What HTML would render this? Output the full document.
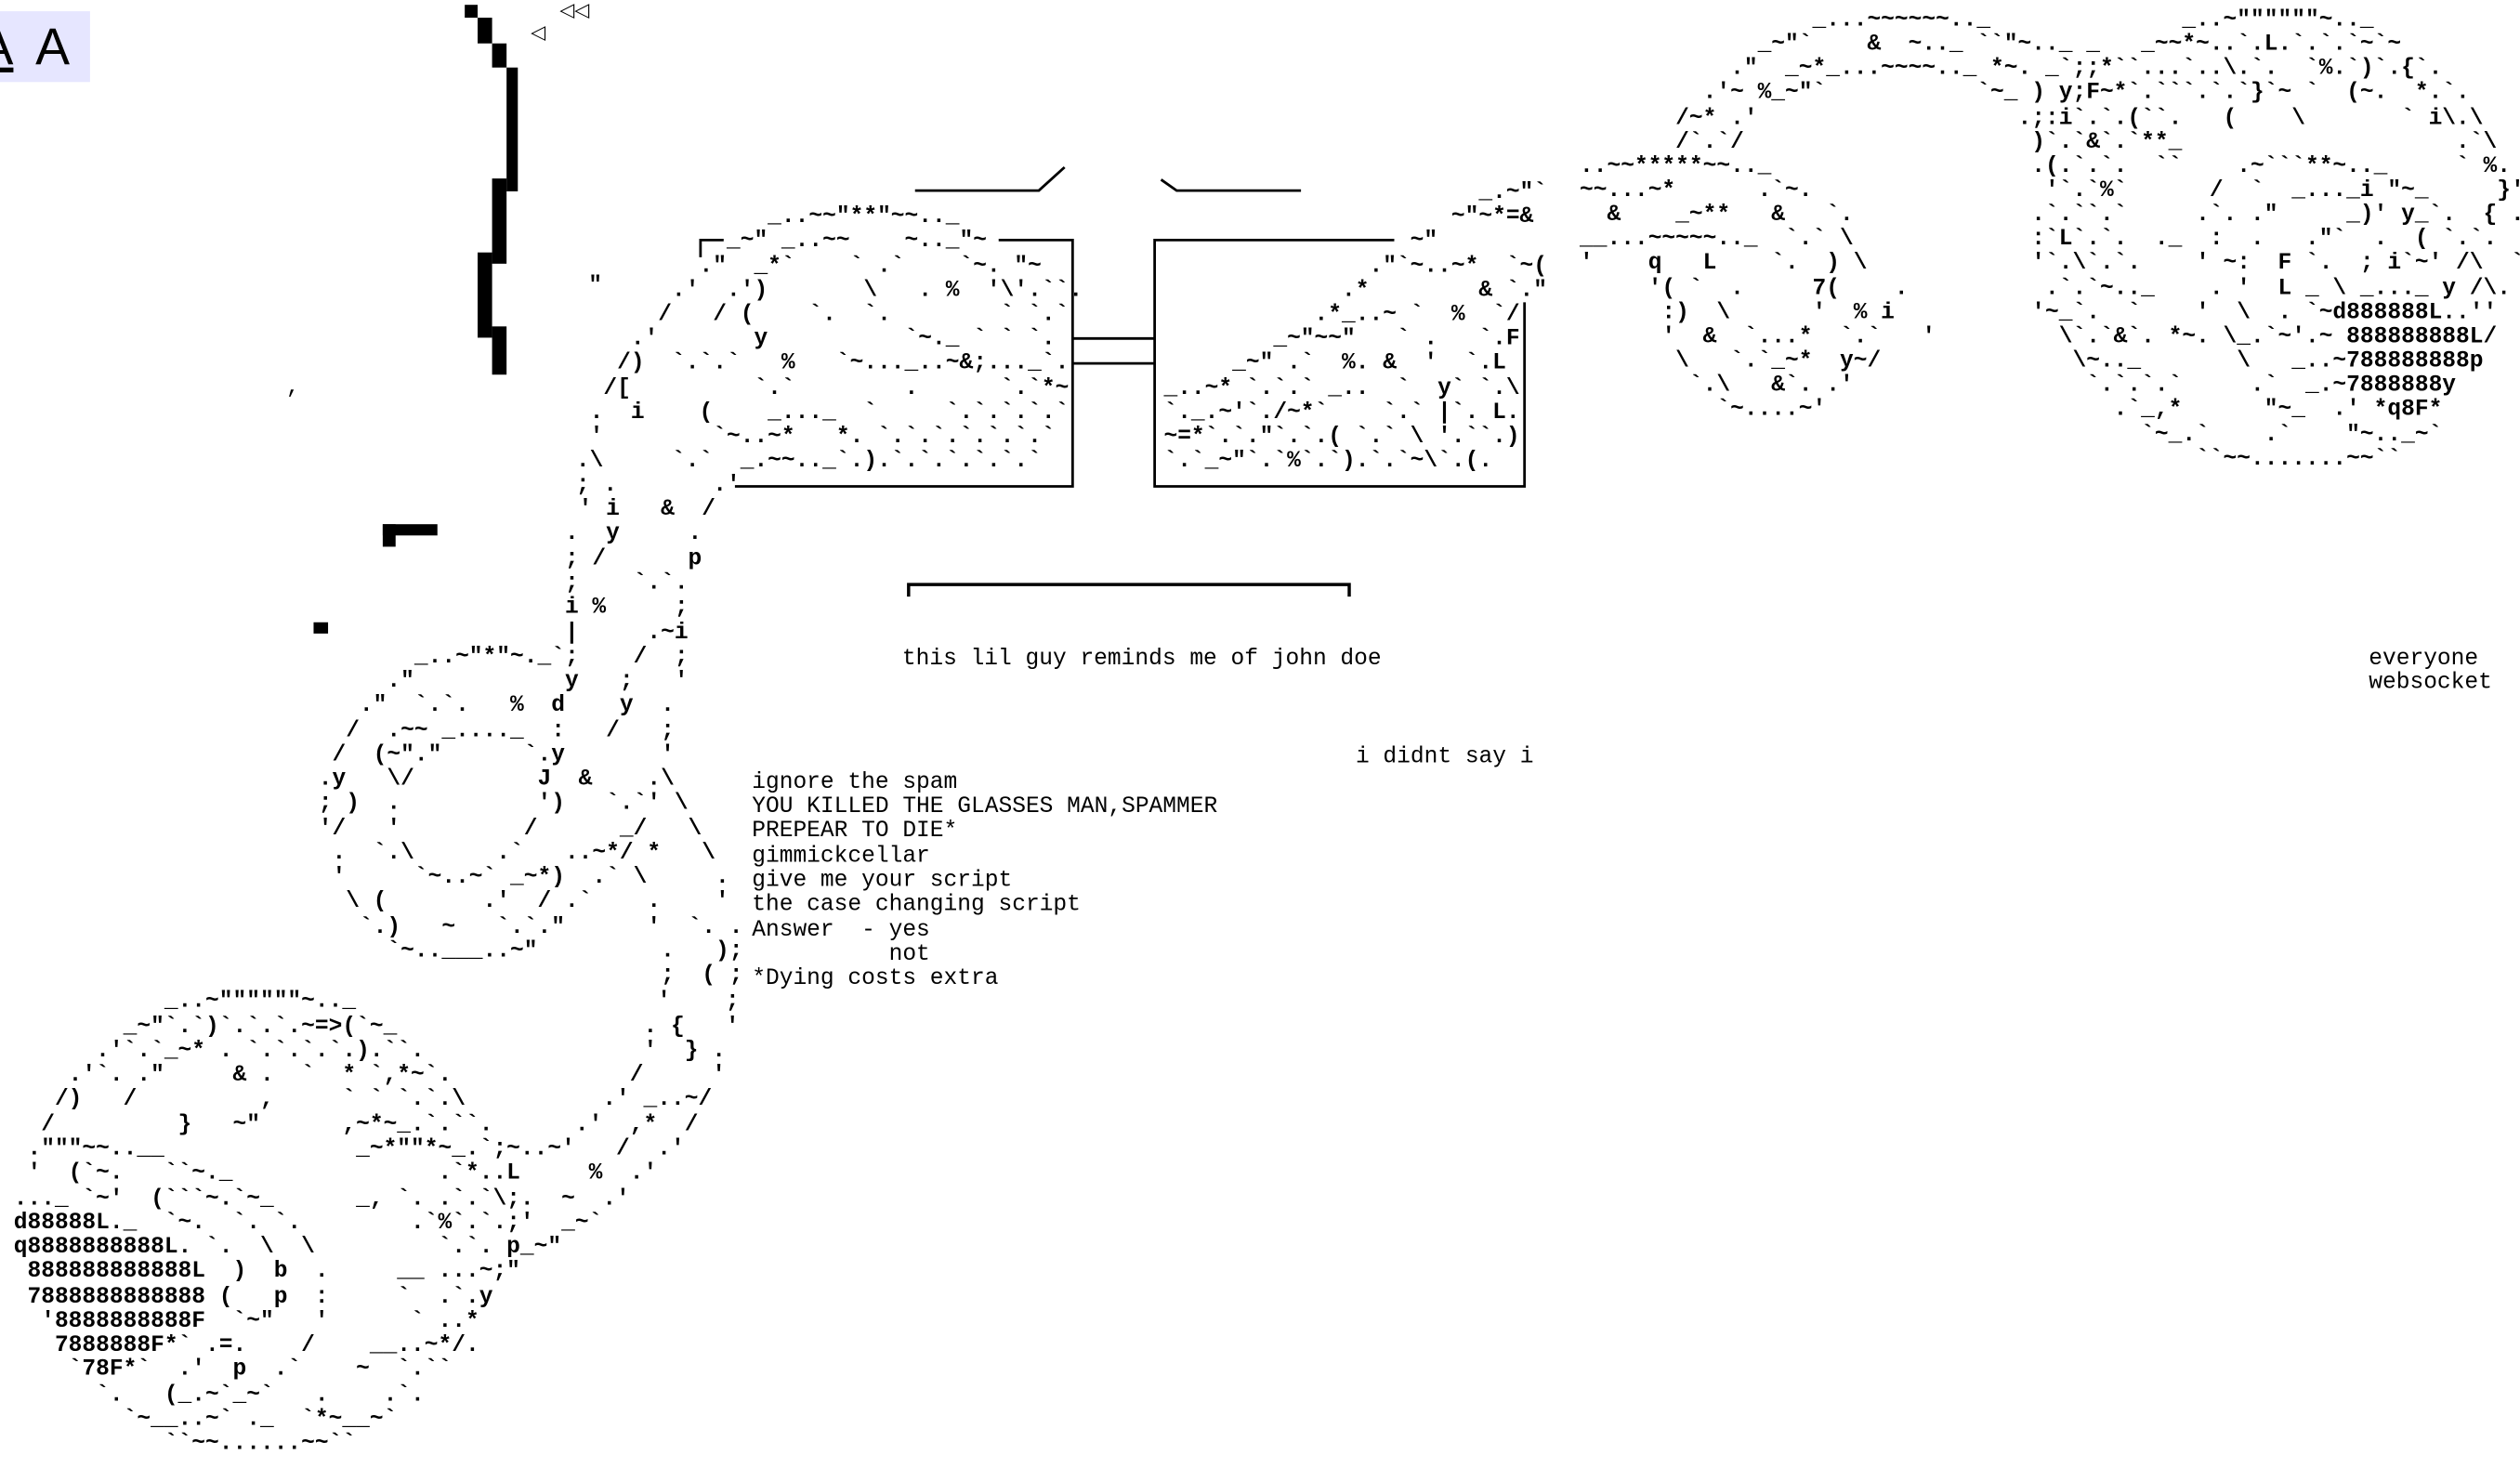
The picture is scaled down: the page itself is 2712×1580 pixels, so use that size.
<!DOCTYPE html>
<html><head><meta charset="utf-8"><style>
html,body{margin:0;padding:0;background:#fff;}
body{width:2712px;height:1580px;overflow:hidden;position:relative;}
#s{position:absolute;left:0;top:0;width:1567px;height:913px;transform:scale(1.73066);transform-origin:0 0;}
pre{position:absolute;margin:0;font-family:"Liberation Mono",monospace;font-size:14.2px;line-height:15.2px;font-weight:bold;color:#000;white-space:pre;}
.t{font-weight:normal;line-height:15.35px;}
.b{position:absolute;background:#000;}
</style></head><body><div id="s">
<div style="position:absolute;left:0;top:7px;width:55.5px;height:44px;background:#e6e6ff;overflow:hidden;font-family:'Liberation Sans',sans-serif;font-size:32px;line-height:44px;color:#000;"><span style="position:absolute;left:-13px;top:0;text-decoration:underline;">A</span><span style="position:absolute;left:22px;top:0;">A</span></div>
<div class="b" style="left:288.7px;top:3px;width:8.6px;height:8.3px"></div>
<div class="b" style="left:297.2px;top:11.3px;width:8.8px;height:15.3px"></div>
<div class="b" style="left:306px;top:26.6px;width:8.5px;height:15.2px"></div>
<div class="b" style="left:314.5px;top:41.8px;width:7.8px;height:76.8px"></div>
<div class="b" style="left:306px;top:110.9px;width:8.5px;height:53.6px"></div>
<div class="b" style="left:297.2px;top:156.7px;width:8.8px;height:53.3px"></div>
<div class="b" style="left:306px;top:203px;width:8.5px;height:30.3px"></div>
<div class="b" style="left:237.7px;top:325.6px;width:34.3px;height:7.4px"></div>
<div class="b" style="left:237.7px;top:325.6px;width:8px;height:14.7px"></div>
<div class="b" style="left:195px;top:386.7px;width:8.7px;height:7.7px"></div>
<div style="position:absolute;left:178px;top:233px;font:14px 'Liberation Mono',monospace;">,</div>
<div style="position:absolute;left:366px;top:170px;font:bold 14px 'Liberation Mono',monospace;">"</div>
<div style="position:absolute;left:330px;top:14px;font:12px 'DejaVu Sans',sans-serif;line-height:12px;">◁</div>
<div style="position:absolute;left:348px;top:0px;font:12px 'DejaVu Sans',sans-serif;line-height:12px;">◁◁</div>
<svg style="position:absolute;left:0;top:0" width="1567" height="913" viewBox="0 0 1567 913">
<g stroke="#000" stroke-width="1.6" fill="none">
<polyline points="569,118.5 646,118.5 662,104"/>
<polyline points="722,111.7 731.7,118.5 809,118.5"/>
<polyline points="435.6,160 435.6,149.3 450,149.3"/>
<polyline points="621,149.3 667,149.3 667,302.5 457,302.5"/>
<polyline points="867,149.3 718,149.3 718,302.5 948,302.5 948,188"/>
<line x1="667" y1="210.5" x2="718" y2="210.5"/>
<line x1="667" y1="226" x2="718" y2="226"/>
<polyline points="565,371 565,363.5 839,363.5 839,371" stroke-width="2"/>
</g></svg>
<pre style="left:358.2px;top:128.2px">              _..~~"**"~~.._
           _~" _..~~    ~.._"~
         ."  _*`    ` .`    `~. "~
       .'  .')       \   . %  '\'.``.
      /   / (    `.  `.        ` `.`
    .'       y          `~._ ` ` `.
   /)  `.`.`   %   `~..._..~&amp;;..._`.
  /[         `.`        .      `.`*~
 .  i    (    _..._  `     `.`.`.`.`
 '        `~..~*   *. `.`.`.`.`.`.`
.\     `.`  _.~~.._`.).`.`.`.`.`.`
; .       .'</pre>
<pre style="left:723.7px;top:113px">                       _.~"`
                     ~"~*=&amp;
                  ~"
               ."`~..~*  `~(
             .*        &amp; `."
           .*_..~ `  %  `/
        _~"~~"   ` .   `.F
     _~" .`  %. &amp;  '  `.L
_..~* `.`.` _..  `  y` `.\
`._.~'`./~*`    `.` |`. L.
~=*`.`."`.`.( `.` \ '.``.)
`.`_~"`.`%`.`).`.`~\`.(.</pre>
<pre style="left:982.3px;top:5.9px;line-height:15.15px">                 _...~~~~~~.._              _..~""""""~.._
             _~"`    &amp;  ~.._ ``"~.._ _   _~~*~..`.L.`.`.`~`~
           ."  _~*_...~~~~.._ *~. _`;;*``...`..\.`.  `%.`)`.{`.
         .'~ %_~"`           `~_ ) y;F~*`.`&#96;`.`.`}`~ `  (~.  *.`.
       /~* .'                   .;:i`.`.(``.   (    \       ` i\.\
       /`.`/                     )`.`&amp;`.`**_                    .`\
..~~*****~~.._                   .(.`.`.  ``    .~`&#96;`**~.._     ` %.
~~...~*      .`~.                 '`.`%`      /  `  _..._i "~_     }'
  &amp;    _~**   &amp;   `.             .`.``.`     .`. ."     _)' y_`.  { ..
__...~~~~~.._  `.` \             :`L`.`.  ._  :  .   ."`  .  ( `.`.   `:
'    q   L    `.  ) \            '`.\`.`.    ' ~:  F `.  ; i`~' /\  `'
     '( `  .     7(    .          .`.`~.._    . '  L _ \ _..._ y /\.
      :)  \      '  % i          '~_`.  `    '  \  . `~d888888L..''
      '  &amp;  `...*  `.`   '         \`.`&amp;`. *~. \_.`~'.~ 888888888L/
       \   `.`_~*  y~/              \~.._       \   _..~788888888p
        `.\   &amp;`. .'                 `.`.`.`     .`  _.~7888888y
          `~....~'                     .`_,*      "~_  .' *q8F*
                                         `~_.`    .`    "~.._~`
                                             ``~~.......~~``</pre>
<pre style="left:181px;top:310.2px;line-height:15.27px">                     ' i   &amp;  /
                    .  y     .
                    ; /      p
                    ;    `.`.
                    i %     ;
                    |     .~i
         _..~"*"~._`;    /  ;
       ."           y   ;   '
     ."  `.`.   %  d    y  .
    /  .~~ _...._  :   /   ;
   /  (~"."      `.y       '
  .y   \/         J  &amp;    .\
  ; )  .          ')   `.`' \
  '/   '         /      _/   \
   .  `.\      .`   ..~*/ *   \
   '     `~..~` _~*)  .` \     .
    \ (       .'  / .`    .    '
     `.)   ~   `.`."      '  `. .
       `~..___..~"         .   );
                           ;  ( ;</pre>
<pre style="left:0px;top:616.4px;line-height:15.27px">            _..~""""""~.._                      '    ;
         _~"`.`)`.`.`.~=&gt;(`~_                  . {   '
       .'`.`_~* . `.`.`.`.).``.                '  } .
     .'`. ."     &amp; .  `  * `,*~`.             /     '
    /)   /         ,     ` ` `.`.\          .' _..~/
   /         }   ~"      ,~*~_.`.``.      .'  ,*  /
  ."""~~..__              _~*""*~_.`;~..~'   /  .'
  '  (`~.   ``~._               .`*..L     %  .'
 ..._ `~'  (`&#96;`~.`~_      _, `. .`.`\;.  ~  .'
 d88888L._  `~.  `. `.        .`%`.`.;'  _~`
 q8888888888L. `.  \  \         `.`. p_~"
  888888888888L  )  b  .     __ ...~;"
  7888888888888 (   p  :     `  .`.y
   '8888888888F  `~"   '      ` ..*
    7888888F*` .=.    /    __..~*/.
     `78F*`  .'  p  .`    ~  `.``
       `.   (_.~`_~`   .    .`.
         `~__..~` ._  `*~__~`
            ``~~......~~``</pre>
<pre class="t" style="left:561px;top:402.5px">this lil guy reminds me of john doe</pre>
<pre class="t" style="left:843px;top:464px">i didnt say i</pre>
<pre class="t" style="left:1473px;top:402.5px">everyone
websocket</pre>
<pre class="t" style="left:467.6px;top:479.5px">ignore the spam
YOU KILLED THE GLASSES MAN,SPAMMER
PREPEAR TO DIE*
gimmickcellar
give me your script
the case changing script
Answer  - yes
          not
*Dying costs extra</pre>
</div></body></html>
